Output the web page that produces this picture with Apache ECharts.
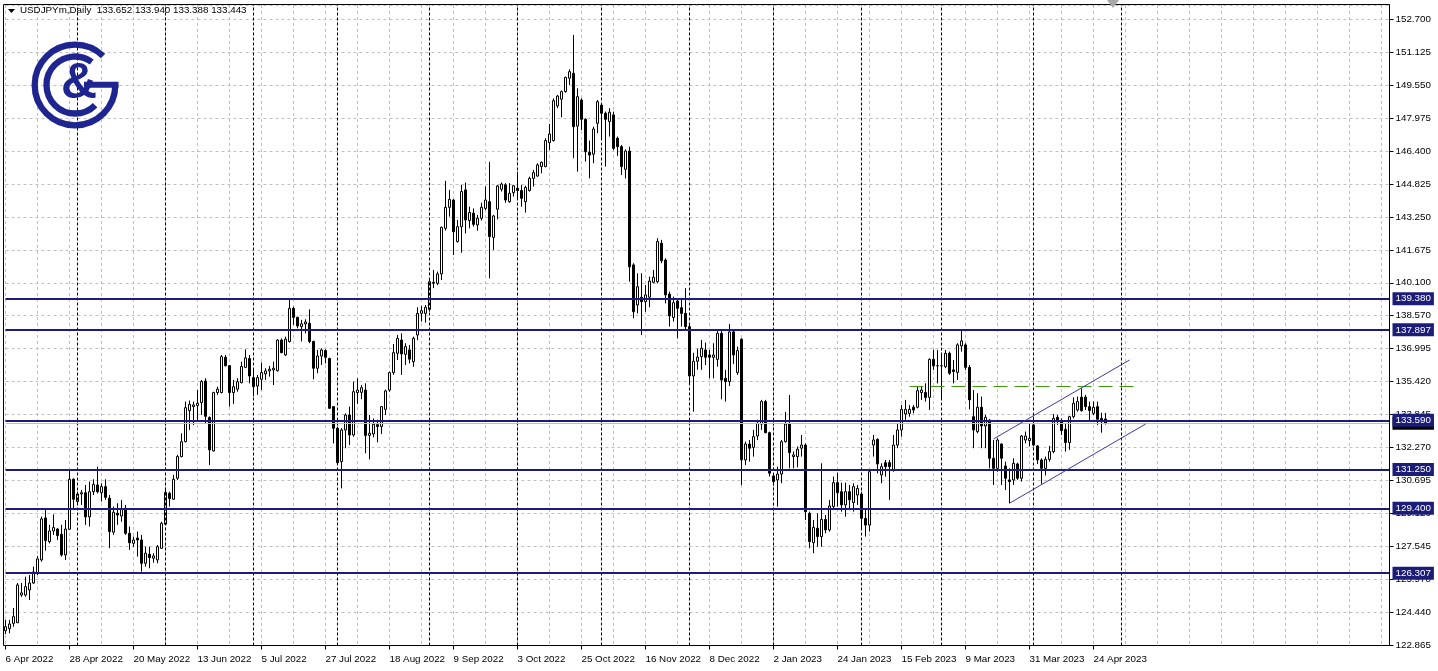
<!DOCTYPE html>
<html><head><meta charset="utf-8">
<script src="https://cdn.jsdelivr.net/npm/echarts@6/dist/echarts.min.js"></script>
<style>html,body{margin:0;padding:0;background:#fff;overflow:hidden}#c{width:1438px;height:671px}</style>
</head><body><div id="c"></div>
<script>
// ---------------- data ----------------
const symbolTitle = 'USDJPYm,Daily';
const lastQuote = ['133.652', '133.940', '133.388', '133.443'];

const opens = [
123.57,123.67,123.92,123.95,125.27,125.27,125.51,125.84,126.32,126.94,
128.94,127.81,128.32,128.41,128.16,127.18,128.40,130.78,129.72,130.08,
130.14,128.99,130.19,130.51,130.14,130.43,129.88,128.26,129.16,129.03,
129.40,128.21,127.73,127.98,127.89,126.78,127.21,127.02,126.94,127.49,
128.64,130.11,129.83,130.83,131.86,132.57,134.05,134.24,134.29,134.43,
135.46,133.72,132.13,134.91,134.91,136.59,136.19,134.91,135.07,135.38,
136.11,136.53,135.62,135.22,135.54,135.80,135.94,135.99,135.95,137.41,
136.70,137.34,138.92,138.49,138.05,138.18,138.21,137.34,136.07,136.65,
136.91,136.53,134.24,133.21,131.62,133.13,133.84,132.89,134.91,134.92,
135.03,132.87,132.94,133.38,133.29,134.11,135.03,135.86,136.78,137.41,
136.73,136.94,136.38,137.65,138.68,138.68,138.87,140.11,140.11,140.56,
142.73,143.73,144.08,142.10,142.81,144.56,143.10,143.45,142.89,143.21,
143.68,144.00,142.30,143.64,144.59,144.80,144.00,144.43,144.64,144.53,
144.00,144.53,145.11,145.22,145.67,145.67,146.81,146.91,148.56,148.88,
149.24,149.88,150.11,147.60,148.84,147.92,146.35,146.26,147.73,148.60,
148.21,147.81,148.13,147.02,146.62,145.54,146.41,140.99,139.08,139.45,
139.24,139.45,140.16,140.19,142.02,141.22,139.60,138.48,139.27,138.95,
138.68,138.05,135.70,136.40,136.62,136.94,136.70,136.59,136.49,137.73,
135.59,135.43,137.80,135.86,137.45,131.70,132.46,132.30,132.84,133.41,
134.48,133.00,130.94,130.75,131.03,132.57,133.41,131.86,131.86,132.26,
132.41,129.16,127.76,128.45,128.05,128.87,128.37,129.48,130.62,130.19,
129.56,130.19,129.67,130.03,130.08,128.92,128.60,132.41,132.68,130.99,
131.57,131.57,131.22,132.41,133.13,133.89,133.92,134.21,134.21,134.91,
134.91,134.68,136.49,136.18,136.18,136.14,136.78,135.99,135.87,137.13,
137.18,136.11,133.76,133.05,134.21,133.32,133.60,131.78,131.30,132.46,
131.41,130.75,130.75,131.51,130.83,132.65,132.62,133.37,132.37,131.70,
131.30,131.73,132.10,133.73,133.57,133.16,132.53,133.76,134.08,134.69,
134.69,134.24,133.92,134.24,133.68,133.652
];
const highs = [
124.08,124.08,124.65,125.84,125.84,126.14,126.22,126.62,127.13,129.00,
129.41,128.61,129.11,128.45,128.61,128.84,131.26,130.83,130.19,130.27,
130.51,130.67,130.78,131.38,130.59,130.78,130.03,129.48,129.64,129.80,
129.56,128.53,128.05,128.29,128.13,127.57,127.57,127.26,127.65,128.76,
130.27,130.19,130.99,131.94,132.97,134.48,134.53,134.48,135.03,135.51,
135.59,133.78,134.95,135.19,136.70,136.70,136.22,135.51,135.59,136.38,
136.97,136.70,135.99,135.75,136.34,136.07,136.18,136.38,137.45,137.49,
137.57,139.35,139.00,138.53,138.37,138.40,138.87,137.38,136.94,137.02,
136.97,136.57,134.27,133.29,133.21,133.92,134.24,135.43,135.59,135.27,
135.35,133.84,133.68,133.61,134.27,135.05,135.91,137.22,137.65,137.73,
137.26,137.18,137.57,138.97,139.03,139.08,140.30,140.75,140.67,142.81,
144.99,144.56,144.11,143.13,144.80,144.91,143.76,143.68,143.37,143.95,
144.72,145.90,143.37,144.80,144.91,144.88,144.88,144.80,145.43,144.80,
144.76,145.19,145.51,145.83,145.91,147.02,147.70,148.92,149.08,149.29,
149.95,150.30,151.94,149.40,148.92,147.97,146.91,147.57,148.84,148.68,
148.29,148.45,148.29,147.10,146.70,146.49,146.62,141.07,140.59,140.59,
140.03,140.43,140.75,142.26,142.18,141.30,139.72,139.48,139.35,139.40,
139.88,138.20,136.80,137.00,137.42,137.29,136.94,137.26,137.89,137.89,
135.99,138.18,137.86,137.10,137.49,132.57,132.65,133.13,133.61,134.56,
134.56,133.05,131.07,131.38,132.65,133.99,134.80,132.10,132.34,132.89,
132.49,129.24,128.84,129.16,131.54,129.08,129.80,130.91,131.10,130.62,
130.62,130.51,130.59,130.51,130.19,129.32,131.22,132.89,132.73,131.54,
131.70,131.70,132.89,133.45,134.32,134.56,134.32,134.32,135.19,135.19,
135.35,136.54,136.94,136.94,136.78,136.94,136.86,136.46,137.26,137.89,
137.26,136.22,135.03,134.88,134.72,133.84,133.64,132.65,132.73,132.49,
131.62,131.30,131.78,131.57,132.89,133.05,133.45,133.76,132.41,131.78,
131.86,132.37,133.89,133.84,133.68,133.45,133.80,134.68,134.72,135.11,
134.80,134.48,134.48,134.48,133.95,133.940
];
const lows = [
123.41,123.45,123.76,123.94,125.18,125.19,125.03,125.80,126.22,126.86,
127.38,127.73,128.13,127.89,127.10,126.94,128.37,129.40,129.64,129.56,
128.61,128.53,130.03,130.11,129.72,129.80,127.50,128.13,128.61,128.76,
128.13,127.42,127.57,127.10,126.38,126.62,126.54,126.81,126.78,127.48,
128.60,129.48,129.80,130.75,131.83,132.54,133.13,133.37,133.60,133.84,
133.45,131.46,132.10,134.80,134.87,136.15,134.24,134.37,134.95,135.35,
136.07,135.35,134.72,134.80,135.03,135.51,135.67,135.27,135.91,136.78,
136.65,137.29,138.13,137.97,137.34,137.73,137.26,135.54,135.83,136.22,
136.30,134.13,132.49,131.50,130.35,132.26,132.41,132.81,134.37,134.59,
132.02,131.73,132.78,132.54,132.94,133.84,134.95,135.75,136.46,135.75,
136.22,136.30,136.14,137.41,138.29,138.24,138.76,139.88,140.03,140.27,
142.62,143.29,141.46,142.05,141.57,142.49,142.73,142.81,142.62,143.10,
143.60,140.35,141.70,143.16,144.48,143.95,143.95,144.24,144.08,143.76,
143.48,144.48,144.72,145.19,145.35,145.64,146.46,146.86,148.45,148.02,
149.19,149.56,146.07,145.43,147.41,145.91,145.11,145.83,147.26,146.94,
145.67,147.10,146.46,146.18,145.27,145.11,140.19,138.45,138.68,137.65,
138.76,138.97,140.11,140.11,141.07,139.16,138.05,138.29,137.49,138.05,
137.89,135.30,134.00,136.00,135.99,136.22,135.59,135.59,136.14,134.59,
134.48,135.22,136.27,135.75,130.51,131.46,131.62,131.86,132.65,133.13,
132.97,130.91,130.51,129.48,130.59,132.53,131.30,131.30,131.35,131.86,
128.84,127.49,127.26,127.57,127.57,128.21,128.29,129.40,129.48,129.24,
129.00,129.40,129.24,129.56,128.45,128.05,128.29,131.86,131.06,130.59,
130.91,129.80,131.14,132.26,132.81,133.61,133.76,133.92,134.16,134.56,
134.48,134.08,135.99,135.35,134.56,136.07,135.75,135.35,135.51,136.86,
135.99,134.11,132.26,132.97,132.26,132.26,131.30,130.51,131.14,130.51,
130.27,129.64,130.51,130.75,130.67,132.49,132.34,132.34,131.51,130.56,
130.96,131.62,132.02,133.37,132.89,132.10,132.18,133.68,134.00,134.00,
134.08,133.60,133.84,133.37,133.00,133.388
];
const closes = [
123.76,123.89,124.24,125.75,125.37,125.67,125.84,126.37,126.99,128.89,
127.86,128.32,128.48,128.10,127.18,128.41,130.78,129.83,130.08,130.14,
128.99,130.19,130.54,130.19,130.43,129.92,128.29,129.21,129.08,129.35,
128.21,127.76,127.89,127.89,126.78,127.26,127.05,127.13,127.57,128.68,
130.16,129.86,130.78,131.86,132.57,134.19,134.35,134.32,134.40,135.43,
133.78,132.18,134.91,135.07,136.62,136.19,134.91,135.19,135.43,136.15,
136.56,135.70,135.19,135.62,135.86,135.94,136.02,136.07,137.41,136.81,
137.45,138.92,138.49,138.08,138.18,138.27,137.34,136.07,136.65,136.94,
136.59,134.16,133.21,131.57,133.13,133.84,132.89,134.95,135.03,135.14,
132.87,132.97,133.40,133.29,134.24,134.99,135.86,136.81,137.49,136.75,
137.10,136.50,137.49,138.68,138.81,138.97,140.19,140.16,140.56,142.78,
143.73,144.11,142.57,142.81,144.48,143.13,143.49,142.92,143.21,143.73,
144.08,142.34,143.32,144.75,144.84,144.08,144.40,144.76,144.53,144.16,
144.68,145.11,145.38,145.75,145.88,146.91,147.22,148.81,149.03,149.24,
149.92,150.19,147.57,149.00,147.92,146.38,146.22,147.46,148.76,148.21,
147.92,148.26,146.54,146.62,145.67,146.41,140.90,138.76,139.95,139.24,
139.56,140.22,140.40,142.10,141.19,139.56,138.56,139.19,138.92,138.68,
138.05,135.70,136.40,136.60,137.02,136.59,136.59,136.70,137.73,135.51,
135.43,137.80,136.70,136.91,131.70,132.46,132.26,132.81,133.45,134.48,
133.00,131.07,130.67,131.03,132.57,133.41,132.05,131.94,132.21,132.41,
129.24,127.81,128.49,128.05,128.87,128.37,129.51,130.62,130.14,129.56,
130.19,129.80,130.43,130.35,128.92,128.60,131.14,132.65,131.51,131.38,
131.38,131.38,132.41,133.13,134.11,134.11,134.11,134.08,135.00,135.03,
134.68,136.49,136.18,136.19,136.18,136.78,135.83,135.91,137.18,137.37,
136.11,134.56,133.13,134.21,133.32,133.73,131.78,131.30,132.65,131.78,
130.83,130.67,131.54,130.83,132.84,132.84,132.73,132.41,131.70,131.30,
131.73,132.10,133.68,133.57,133.10,132.53,133.76,134.40,134.48,134.05,
134.24,134.05,134.21,133.64,133.60,133.443
];

// right-hand price scale texts (bottom to top)
const yTickLabels = ['122.865','124.440','125.970','127.545','129.120','130.695','132.270','133.845','135.420','136.995',
  '138.570','140.100','141.675','143.250','144.825','146.400','147.975','149.550','151.125','152.700'];

// horizontal support / resistance levels
const levelValues = [139.380, 137.897, 133.590, 131.250, 129.400, 126.307];
const levelTexts  = ['139.380','137.897','133.590','131.250','129.400','126.307'];
const bidPrice = 133.443;
const bidText = '133.443';
// green dashed resistance (bar index from / to, price)
const greenLine = {from: 226, to: 282, price: 135.19};
// ascending channel lines: [bar index, price]
const channelUpper = [[247, 132.70], [281, 136.46]];
const channelLower = [[251, 129.64], [285, 133.41]];

// calendar
const firstBarDate = [2022, 3, 6];
const skippedDays = ['2022-12-26'];
const totalSlots = 347;
const MONTHS = ['Jan','Feb','Mar','Apr','May','Jun','Jul','Aug','Sep','Oct','Nov','Dec'];

// ---------------- build ----------------
const barCount = opens.length;
const dates = [];
{
  let d = new Date(Date.UTC(firstBarDate[0], firstBarDate[1], firstBarDate[2]));
  while (dates.length < barCount) {
    const wd = d.getUTCDay();
    const iso = d.toISOString().slice(0, 10);
    if (wd !== 0 && wd !== 6 && skippedDays.indexOf(iso) < 0) dates.push(new Date(d.getTime()));
    d.setUTCDate(d.getUTCDate() + 1);
  }
  const f = new Date(dates[dates.length - 1].getTime());
  while (dates.length < totalSlots) { f.setUTCDate(f.getUTCDate() + 1); dates.push(new Date(f.getTime())); }
}
const cats = dates.map(d => d.getUTCDate() + ' ' + MONTHS[d.getUTCMonth()] + ' ' + d.getUTCFullYear());
// month separators (only up to the first month start after the last bar)
const separators = [];
for (let i = 1; i < dates.length; i++) {
  if (dates[i].getUTCMonth() !== dates[i - 1].getUTCMonth()) {
    separators.push(i);
    if (i >= barCount) break;
  }
}

const candles = opens.map((o, i) => [o, closes[i], lows[i], highs[i]]);

const NAVY = '#1b1d78';
const FONT = 'Liberation Sans';

const mlData = [];
separators.forEach(i => mlData.push({xAxis: cats[i], lineStyle: {color: '#000', width: 1, type: [3, 2]}, label: {show: false}}));
mlData.push({yAxis: bidPrice, lineStyle: {color: '#c0c0c0', width: 1, type: 'solid'},
  label: {show: true, position: 'end', distance: 3, formatter: bidText, color: '#fff', backgroundColor: '#000',
    fontFamily: FONT, fontSize: 9.8, padding: [2, 3, 1, 3]}});
levelValues.forEach((v, k) => mlData.push({yAxis: v, lineStyle: {color: NAVY, width: 2, type: 'solid'},
  label: {show: true, position: 'end', distance: 3, formatter: levelTexts[k], color: '#fff', backgroundColor: NAVY,
    fontFamily: FONT, fontSize: 9.8, padding: [2, 3, 1, 3]}}));
mlData.push([{coord: [cats[greenLine.from], greenLine.price]}, {coord: [cats[greenLine.to], greenLine.price],
  lineStyle: {color: '#3f9a12', width: 1, type: [14, 7]}, label: {show: false}}]);
mlData.push([{coord: [cats[channelUpper[0][0]], channelUpper[0][1]]}, {coord: [cats[channelUpper[1][0]], channelUpper[1][1]],
  lineStyle: {color: '#3a3aa0', width: 1, type: 'solid'}, label: {show: false}}]);
mlData.push([{coord: [cats[channelLower[0][0]], channelLower[0][1]]}, {coord: [cats[channelLower[1][0]], channelLower[1][1]],
  lineStyle: {color: '#3a3aa0', width: 1, type: 'solid'}, label: {show: false}}]);

const PX_PER_UNIT = 21;
const plotTop = 5, plotBottom = 645.5;
const yMin = 122.865;
const yMax = yMin + (plotBottom - plotTop) / PX_PER_UNIT;
const labelStep = (152.700 - 122.865) / 19 * PX_PER_UNIT; // px between price labels
const labelAxisMax = (plotBottom - plotTop) / labelStep;

const chart = echarts.init(document.getElementById('c'), null, {renderer: 'canvas'});
chart.setOption({
  animation: false,
  backgroundColor: '#fff',
  grid: {left: 5.5, width: 4 * (totalSlots - 1), top: plotTop, height: plotBottom - plotTop, show: false},
  xAxis: {
    type: 'category', data: cats, boundaryGap: false,
    axisLine: {show: true, lineStyle: {color: '#000', width: 1}},
    axisTick: {show: true, length: 4, interval: (i) => i % 16 === 0 && i < barCount, lineStyle: {color: '#000'}},
    axisLabel: {show: true, interval: (i) => i % 16 === 0 && i < barCount, align: 'left', margin: 9,
      color: '#000', fontFamily: FONT, fontSize: 9.8, hideOverlap: false},
    splitLine: {show: true, interval: (i) => i % 8 === 0, lineStyle: {color: '#c0c0c0', width: 1, type: [3, 3]}}
  },
  yAxis: [
    {type: 'value', min: yMin, max: yMax, show: false, splitLine: {show: false}},
    {type: 'value', min: 0, max: labelAxisMax, interval: 1, position: 'right',
      axisLine: {show: true, lineStyle: {color: '#000', width: 1}},
      axisTick: {show: true, length: 4, lineStyle: {color: '#000'}},
      axisLabel: {margin: 6, color: '#000', fontFamily: FONT, fontSize: 9.8, showMaxLabel: false,
        formatter: (v) => { const k = Math.round(v); return Math.abs(v - k) < 1e-6 && yTickLabels[k] ? yTickLabels[k] : ''; }},
      splitLine: {show: true, lineStyle: {color: '#c0c0c0', width: 1, type: [3, 3]}}}
  ],
  series: [{
    type: 'candlestick', xAxisIndex: 0, yAxisIndex: 0, data: candles, barWidth: 2, clip: true,
    itemStyle: {color: '#ffffff', color0: '#000000', borderColor: '#000000', borderColor0: '#000000', borderWidth: 1},
    emphasis: {disabled: true},
    markLine: {silent: true, symbol: ['none', 'none'], animation: false, precision: 3, data: mlData}
  }],
  graphic: [
    {type: 'rect', shape: {x: 3.5, y: 4.5, width: 1386, height: 641}, style: {fill: 'none', stroke: '#000', lineWidth: 1}, z: 10, silent: true},
    {type: 'polygon', shape: {points: [[8, 9], [15, 9], [11.5, 13]]}, style: {fill: '#000'}, z: 10},
    {type: 'text', left: 20, top: 5, style: {text: symbolTitle + '  ' + lastQuote.join(' '), fill: '#000', font: '9.8px "Liberation Sans"'}, z: 10},
    {type: 'polygon', shape: {points: [[1107, 0], [1119, 0], [1113, 8]]}, style: {fill: '#a8a8a8'}, z: 10},
    // logo
    {type: 'arc', shape: {cx: 75, cy: 85, r: 40.3, startAngle: 0, endAngle: Math.PI * 1.745, clockwise: true},
      style: {stroke: '#1e2590', lineWidth: 6.3, fill: 'none'}, z: 10},
    {type: 'arc', shape: {cx: 75, cy: 85, r: 28.5, startAngle: Math.PI * 0.25, endAngle: Math.PI * 1.7, clockwise: true},
      style: {stroke: '#1e2590', lineWidth: 6.3, fill: 'none'}, z: 10},
    {type: 'rect', shape: {x: 84, y: 81.8, width: 34.5, height: 6}, style: {fill: '#1e2590'}, z: 10},
    {type: 'text', x: 79, y: 84, style: {text: '&', fill: '#1e2590', font: 'bold 50px "Liberation Sans"', align: 'center', verticalAlign: 'middle'}, z: 10}
  ]
});
</script></body></html>
